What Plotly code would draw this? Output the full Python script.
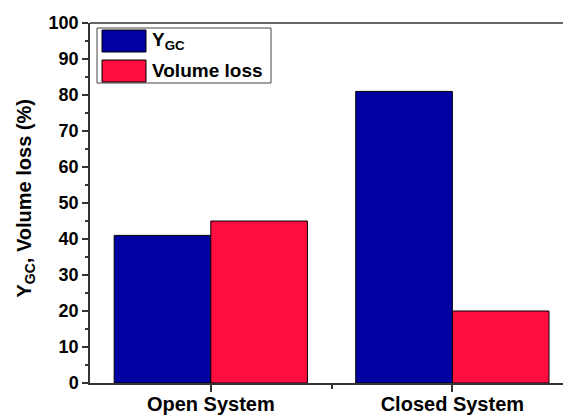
import plotly.graph_objects as go

categories = ["Open System", "Closed System"]
ygc = [41, 81]
volume_loss = [45, 20]
series_names = ["Y<sub>GC</sub>", "Volume loss"]
y_title = "Y<sub>GC</sub>, Volume loss (%)"
colors = ["#0000A3", "#FF0D40"]

W, H = 563, 416
L, T, B, R = 90, 23, 33, 0
pw, ph = W - L - R, H - T - B

def px(x):
    return (x - L) / pw

def py(y):
    return (H - B - y) / ph

FONT = "Arial, Liberation Sans, sans-serif"

fig = go.Figure()
xs = list(range(len(categories)))
for name, vals, c in zip(series_names, [ygc, volume_loss], colors):
    fig.add_trace(go.Bar(x=xs, y=vals, name=name, marker=dict(color=c, line=dict(color="black", width=1)),
                         showlegend=False))

fig.update_layout(
    width=W, height=H, margin=dict(l=L, r=R, t=T, b=B, autoexpand=False),
    paper_bgcolor="white", plot_bgcolor="white",
    barmode="group", bargap=0.2, bargroupgap=0,
    font=dict(family=FONT, size=18, color="black"),
    xaxis=dict(range=[-0.5, 1.458], tickvals=xs, ticktext=["<b>%s</b>" % c for c in categories],
               automargin=False,
               showline=True, linecolor="#333", linewidth=1.5, ticks="outside", ticklen=7, tickwidth=1.5,
               tickcolor="#333", showgrid=False, zeroline=False, ticklabelstandoff=-5,
               minor=dict(tickvals=[0.5], ticks="outside", ticklen=4, tickwidth=1.5, tickcolor="#333"),
               tickfont=dict(size=20)),
    yaxis=dict(range=[0, 100], showline=True, linecolor="#333", linewidth=1.5, automargin=False,
               ticks="outside", ticklen=6, tickwidth=1.5, tickcolor="#333", showgrid=False, zeroline=False,
               minor=dict(dtick=5, ticks="outside", ticklen=3, tickwidth=1.5, tickcolor="#333"),
               tickvals=list(range(0, 101, 10)), ticktext=["<b>%d</b>" % v for v in range(0, 101, 10)],
               tickfont=dict(size=18)),
)

shapes = [
    dict(type="line", xref="paper", yref="paper", x0=0, x1=1, y0=1, y1=1, line=dict(color="#333", width=1.5)),
    # legend box
    dict(type="rect", xref="paper", yref="paper", x0=px(97), x1=px(271), y0=py(28), y1=py(83),
         line=dict(color="#444", width=1), fillcolor="white"),
    dict(type="rect", xref="paper", yref="paper", x0=px(102), x1=px(146), y0=py(30), y1=py(52),
         line=dict(color="black", width=1), fillcolor=colors[0]),
    dict(type="rect", xref="paper", yref="paper", x0=px(102), x1=px(146), y0=py(60), y1=py(82),
         line=dict(color="black", width=1), fillcolor=colors[1]),
]
fig.update_layout(shapes=shapes)
fig.add_annotation(xref="paper", yref="paper", x=px(150), y=py(41), xanchor="left", yanchor="middle",
                   text="<b>%s</b>" % series_names[0], showarrow=False, font=dict(size=19))
fig.add_annotation(xref="paper", yref="paper", x=px(150), y=py(71), xanchor="left", yanchor="middle",
                   text="<b>%s</b>" % series_names[1], showarrow=False, font=dict(size=19))
fig.add_annotation(xref="paper", yref="paper", x=px(25), y=py(198.5), xanchor="center", yanchor="middle",
                   text="<b>%s</b>" % y_title, textangle=-90, showarrow=False, font=dict(size=20))

fig.write_html("out.html", config={"displayModeBar": False},
               post_script="document.body.style.margin='0';document.body.style.overflow='hidden';")
